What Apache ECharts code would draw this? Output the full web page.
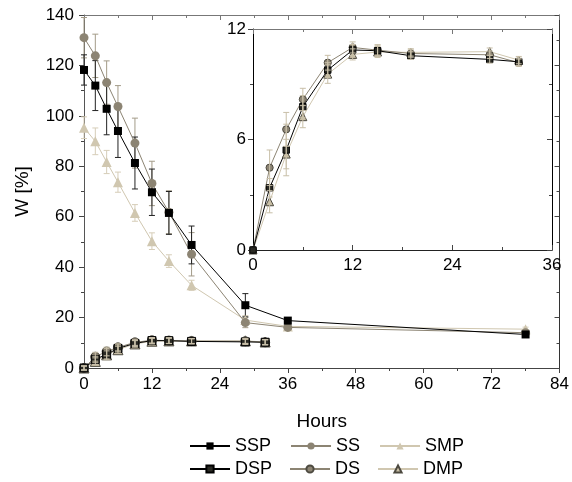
<!DOCTYPE html>
<html><head><meta charset="utf-8">
<script src="https://cdn.jsdelivr.net/npm/echarts@6/dist/echarts.min.js"></script>
<style>html,body{margin:0;padding:0;background:#fff}#c{width:572px;height:482px}</style>
</head><body><div id="c"></div>
<script>
// ---- data ----
const hoursS = [0, 2, 4, 6, 9, 12, 15, 19, 28.5, 36, 78];
const ssp    = [118.2, 112, 102.8, 94, 81.3, 69.7, 61.5, 48.8, 24.9, 18.8, 13.3];
const sspErr = [6, 9.9, 10.3, 10.5, 10.3, 9.2, 8.5, 7.5, 4.6, 1.2, 0.8];
const ss     = [131, 123.8, 113.2, 103.7, 89.2, 73.2, 61.8, 45.1, 18.0, 16.1, 14.0];
const ssErr  = [8, 8.6, 8.6, 8.3, 9.9, 8.8, 8.5, 8.6, 2.0, 1.0, 0.8];
const smp    = [95.3, 89.9, 81.7, 73.7, 61.5, 50.3, 42.4, 32.8, 19.0, 16.5, 15.4];
const smpErr = [4.3, 5.3, 4.6, 4.0, 3.3, 3.3, 2.5, 2.0, 1.8, 1.0, 0.8];

const hoursD = [0, 2, 4, 6, 9, 12, 15, 19, 28.5, 32];
const dsp    = [0, 3.38, 5.43, 7.78, 9.77, 10.86, 10.82, 10.55, 10.35, 10.22];
const dspErr = [0, 0.5, 1.4, 0.6, 0.4, 0.3, 0.3, 0.2, 0.2, 0.2];
const ds     = [0, 4.47, 6.55, 8.18, 10.17, 11.0, 10.85, 10.67, 10.6, 10.17];
const dsErr  = [0, 0.96, 0.92, 0.6, 0.4, 0.3, 0.3, 0.2, 0.2, 0.2];
const dmp    = [0, 2.62, 5.21, 7.24, 9.55, 10.62, 10.75, 10.73, 10.77, 10.31];
const dmpErr = [0, 0.6, 0.8, 0.6, 0.5, 0.3, 0.3, 0.2, 0.2, 0.2];

const mainXTicks = {min: 0, max: 84, interval: 12};
const mainYTicks = {min: 0, max: 140, interval: 20};
const insetXTicks = {min: 0, max: 36, interval: 12};
const insetYTicks = {min: 0, max: 12, interval: 6};

// ---- styles ----
const FONT = 'Liberation Sans';
const C_BLACK = '#000000', C_GRAY = '#8c8473', C_BEIGE = '#d0c7b0';
const styles = {
  SSP: {symbol: 'rect', size: 8, color: C_BLACK, line: C_BLACK, err: '#222'},
  SS:  {symbol: 'circle', size: 9, color: C_GRAY, line: C_GRAY, err: '#a39b88'},
  SMP: {symbol: 'triangle', size: 10, color: C_BEIGE, line: C_BEIGE, err: '#d6cdb8'},
  DSP: {symbol: 'rect', size: 8, color: '#2a2a24', border: '#000', line: C_BLACK, err: '#c8bfa8'},
  DS:  {symbol: 'circle', size: 9, color: C_GRAY, border: '#4d4a40', line: C_GRAY, err: '#c8bfa8'},
  DMP: {symbol: 'triangle', size: 10, color: '#c9bfa5', border: '#4d4a40', line: C_BEIGE, err: '#c8bfa8'}
};

function pairs(xs, ys) { return xs.map((x, i) => [x, ys[i]]); }
function triples(xs, ys, es) { return xs.map((x, i) => [x, ys[i], es[i]]); }

function lineSeries(name, xs, ys, axis, scale, z) {
  const s = styles[name];
  return {
    type: 'line', name, xAxisIndex: axis, yAxisIndex: axis,
    data: pairs(xs, ys), symbol: s.symbol, symbolSize: s.size * scale,
    showAllSymbol: true, animation: false, z: z,
    lineStyle: {color: s.line, width: 1},
    itemStyle: {color: s.color, borderColor: s.border || s.color, borderWidth: s.border ? 1 : 0, opacity: 1}
  };
}
function errSeries(name, xs, ys, es, axis, z, colOverride) {
  const col = colOverride || styles[name].err;
  return {
    type: 'custom', xAxisIndex: axis, yAxisIndex: axis, silent: true, animation: false, z: z,
    data: triples(xs, ys, es),
    renderItem: function (params, api) {
      const x = api.value(0), y = api.value(1), e = api.value(2);
      if (!e) return null;
      const t = api.coord([x, y + e]), b = api.coord([x, y - e]);
      const w = 3;
      const st = {stroke: col, lineWidth: 1};
      return {type: 'group', children: [
        {type: 'line', shape: {x1: t[0], y1: t[1], x2: b[0], y2: b[1]}, style: st},
        {type: 'line', shape: {x1: t[0] - w, y1: t[1], x2: t[0] + w, y2: t[1]}, style: st},
        {type: 'line', shape: {x1: b[0] - w, y1: b[1], x2: b[0] + w, y2: b[1]}, style: st}
      ]};
    }
  };
}

const tickFont = {fontFamily: FONT, fontSize: 17, color: '#000'};

function axisCommon(ticks, opts) {
  return Object.assign({
    type: 'value', min: ticks.min, max: ticks.max, interval: ticks.interval,
    splitLine: {show: false},
    minorTick: {show: true, splitNumber: 2, length: 3, lineStyle: {color: opts.tickColor || '#444'}},
    axisLine: {show: true, onZero: false, lineStyle: {color: opts.lineColor || '#444', width: 1}},
    axisTick: {show: true, inside: !!opts.inside, length: 5, lineStyle: {color: opts.tickColor || '#444'}},
    axisLabel: opts.noLabel ? {show: false} : Object.assign({margin: opts.margin || 8}, tickFont)
  }, opts.extra || {});
}

const legendText = {fontFamily: FONT, fontSize: 18, color: '#000'};

const option = {
  backgroundColor: '#fff',
  animation: false,
  grid: [
    {left: 84, right: 9, top: 15, bottom: 114, containLabel: false},
    {left: 253, right: 20, top: 29, bottom: 232, containLabel: false, show: true, backgroundColor: '#fff', borderWidth: 0, z: 5}
  ],
  xAxis: [
    axisCommon(mainXTicks, {lineColor: '#444', margin: 8, extra: {gridIndex: 0, position: 'bottom',
      name: 'Hours', nameLocation: 'middle', nameGap: 44, nameTextStyle: {fontFamily: FONT, fontSize: 19, color: '#000'}}}),
    axisCommon(mainXTicks, {lineColor: '#777', tickColor: '#777', inside: true, noLabel: true, extra: {gridIndex: 0, position: 'top'}}),
    axisCommon(insetXTicks, {lineColor: '#222', inside: true, margin: 7, extra: {gridIndex: 1, position: 'bottom', z: 6}}),
    axisCommon(insetXTicks, {lineColor: '#777', tickColor: '#777', inside: true, noLabel: true, extra: {gridIndex: 1, position: 'top', z: 6}})
  ],
  yAxis: [
    axisCommon(mainYTicks, {lineColor: '#555', margin: 10, extra: {gridIndex: 0, position: 'left',
      name: 'W [%]', nameLocation: 'middle', nameGap: 52, nameTextStyle: {fontFamily: FONT, fontSize: 19, color: '#000'}}}),
    axisCommon(mainYTicks, {lineColor: '#333', inside: true, noLabel: true, extra: {gridIndex: 0, position: 'right'}}),
    axisCommon(insetYTicks, {lineColor: '#000', margin: 7, extra: {gridIndex: 1, position: 'left', z: 6}}),
    axisCommon(insetYTicks, {lineColor: '#000', inside: true, noLabel: true, extra: {gridIndex: 1, position: 'right', z: 6}})
  ],
  legend: [
    {data: ['SSP', 'SS', 'SMP'], left: 184, top: 432, itemWidth: 40, itemHeight: 9, itemGap: 19,
     textStyle: legendText, selectedMode: false},
    {data: ['DSP', 'DS', 'DMP'], left: 184, top: 455, itemWidth: 40, itemHeight: 9, itemGap: 17,
     textStyle: legendText, selectedMode: false}
  ],
  series: [
    // main plot (axis index 0)
    errSeries('SMP', hoursS, smp, smpErr, 0, 2),
    errSeries('SS', hoursS, ss, ssErr, 0, 2),
    errSeries('SSP', hoursS, ssp, sspErr, 0, 2),
    lineSeries('SMP', hoursS, smp, 0, 1, 3),
    lineSeries('SS', hoursS, ss, 0, 1, 3),
    lineSeries('SSP', hoursS, ssp, 0, 1, 3),
    lineSeries('DMP', hoursD, dmp, 0, 1, 3),
    lineSeries('DS', hoursD, ds, 0, 1, 3),
    lineSeries('DSP', hoursD, dsp, 0, 1, 3),
    errSeries('DSP', hoursD, dsp, dspErr.map(e => e + 0.8), 0, 4),
    errSeries('DS', hoursD, ds, dsErr.map(e => e + 0.8), 0, 4),
    errSeries('DMP', hoursD, dmp, dmpErr.map(e => e + 0.8), 0, 4),
    // inset (axis index 2)
    lineSeries('DMP', hoursD, dmp, 2, 0.8, 7),
    lineSeries('DS', hoursD, ds, 2, 0.8, 7),
    lineSeries('DSP', hoursD, dsp, 2, 0.8, 7),
    errSeries('DSP', hoursD, dsp, dspErr, 2, 8),
    errSeries('DS', hoursD, ds, dsErr, 2, 8),
    errSeries('DMP', hoursD, dmp, dmpErr, 2, 8)
  ]
};

const chart = echarts.init(document.getElementById('c'), null, {renderer: 'canvas'});
chart.setOption(option);
</script>
</body></html>
